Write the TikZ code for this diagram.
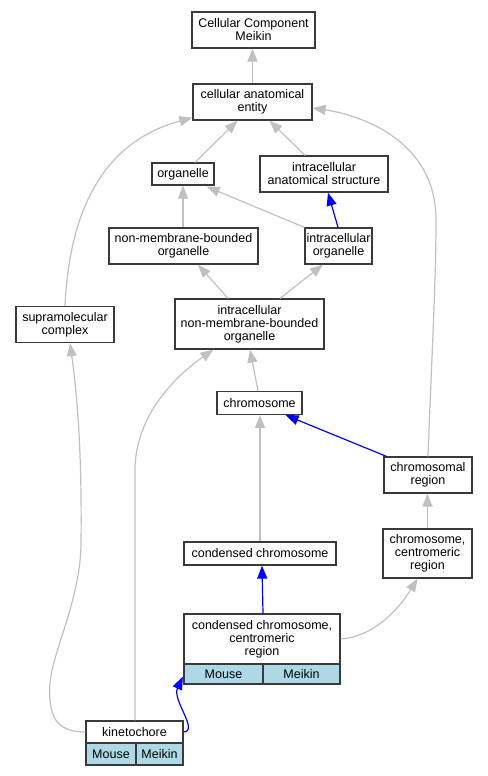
\documentclass[tikz,border=0pt]{standalone}
\usepackage{fontspec}
\setmainfont{Liberation Sans}
\usetikzlibrary{arrows.meta,calc}
\definecolor{boxc}{HTML}{3A3A3A}
\definecolor{edgec}{HTML}{C0C0C0}
\definecolor{cellc}{HTML}{ADD8E6}
\definecolor{bluec}{HTML}{0000FF}
\tikzset{
  box/.style={draw=boxc, line width=1.3bp, fill=white, inner sep=0pt, align=center,
    font=\fontsize{12.5bp}{13bp}\selectfont},
  cellbox/.style={box, fill=cellc},
  isa/.style={draw=edgec, line width=1.2bp, -{Triangle[length=13bp,width=10bp]}},
  partof/.style={draw=bluec, line width=1.2bp, -{Triangle[length=13bp,width=10bp]}},
}
\begin{document}
\begin{tikzpicture}[x=1bp,y=-1bp]
\useasboundingbox (0,0) rectangle (488,776);
% nodes
\node[box, minimum width=123bp, minimum height=36bp] (cc) at (253.5,30) {Cellular Component\\Meikin};
\node[box, minimum width=119bp, minimum height=36bp] (cae) at (252.5,102) {cellular anatomical\\entity};
\node[box, minimum width=62bp, minimum height=22bp] (org) at (183,174) {organelle};
\node[box, minimum width=128bp, minimum height=36bp] (ias) at (324,174) {intracellular\\anatomical structure};
\node[box, minimum width=149bp, minimum height=36bp] (nmbo) at (183.5,246) {non-membrane-bounded\\organelle};
\node[box, minimum width=67bp, minimum height=36bp] (io) at (338.5,246) {intracellular\\organelle};
\node[box, minimum width=98bp, minimum height=36bp] (sup) at (65,324.5) {supramolecular\\complex};
\node[box, minimum width=149bp, minimum height=50bp] (inmbo) at (249.5,324) {intracellular\\non-membrane-bounded\\organelle};
\node[box, minimum width=85bp, minimum height=23bp] (chr) at (259.5,403) {chromosome};
\node[box, minimum width=88bp, minimum height=36bp] (cr) at (428,475) {chromosomal\\region};
\node[box, minimum width=89bp, minimum height=49bp] (ccr) at (427.5,553.5) {chromosome,\\centromeric\\region};
\node[box, minimum width=152bp, minimum height=23bp] (cch) at (260,553.5) {condensed chromosome};
\node[box, minimum width=156bp, minimum height=50bp] (cccr) at (262,639) {condensed chromosome,\\centromeric\\region};
\node[cellbox, minimum width=79bp, minimum height=20bp] (cccrA) at (223.5,674) {Mouse};
\node[cellbox, minimum width=77bp, minimum height=20bp] (cccrB) at (301.5,674) {Meikin};
\node[box, minimum width=97bp, minimum height=22bp] (kin) at (134.5,732) {kinetochore};
\node[cellbox, minimum width=50bp, minimum height=22bp] (kinA) at (111,754) {Mouse};
\node[cellbox, minimum width=47bp, minimum height=22bp] (kinB) at (159.5,754) {Meikin};
% edges
\draw[isa] (cae.north) -- (cae.north |- cc.south);
\draw[isa] ($(org.north)+(12,0)$) -- ($(cae.south)+(-15,0)$);
\draw[isa] ($(ias.north)+(-19,0)$) -- ($(cae.south)+(17,0)$);
\draw[isa] (sup.north) .. controls (70,200) and (110,140) .. ($(cae.south west)+(0,-3)$);
\draw[isa] ($(cr.north)+(0,0)$) .. controls (432,350) and (436,280) .. (436,220)
  .. controls (436,140) and (360,115) .. ($(cae.east)+(0,6)$);
\draw[isa] (nmbo.north -| org.south) -- (org.south);
\draw[isa] (io.north west) -- ($(org.south east)+(-8,1)$);
\draw[partof] ($(io.north)+(-0.5,0)$) -- ($(ias.south)+(4,0)$);
\draw[isa] ($(inmbo.north)+(-21.5,0)$) -- ($(nmbo.south)+(14.5,0)$);
\draw[isa] ($(inmbo.north)+(30.5,0)$) -- ($(io.south)+(-15.5,0)$);
\draw[isa] ($(chr.north)+(-1.5,0)$) -- ($(inmbo.south)+(0.5,0)$);
\draw[isa] ($(kin.north)+(0.5,0)$) -- (135,470) .. controls (135,420) and (170,380) .. ($(inmbo.south west)+(39,0)$);
\draw[isa] (kin.west) .. controls (55,732) and (48,715) .. (50,683)
  .. controls (53,650) and (80,600) .. (81,545)
  .. controls (82,460) and (78,400) .. ($(sup.south)+(5,0)$);
\draw[partof] ($(cr.north west)+(3,0)$) -- ($(chr.south east)+(-17,0)$);
\draw[isa] (cch.north) -- (cch.north |- chr.south);
\draw[partof] ($(cccr.north)+(1,0)$) -- (cccr.north |- cch.south);
\draw[isa] (cccr.east) .. controls (370,637) and (395,615) .. ($(ccr.south)+(-10,0)$);
\draw[isa] (ccr.north) -- (ccr.north |- cr.south);
\draw[partof] (kin.east) .. controls (199,731) and (172,700) .. ($(cccrA.south west)+(-0.5,-8)$);
\end{tikzpicture}
\end{document}
